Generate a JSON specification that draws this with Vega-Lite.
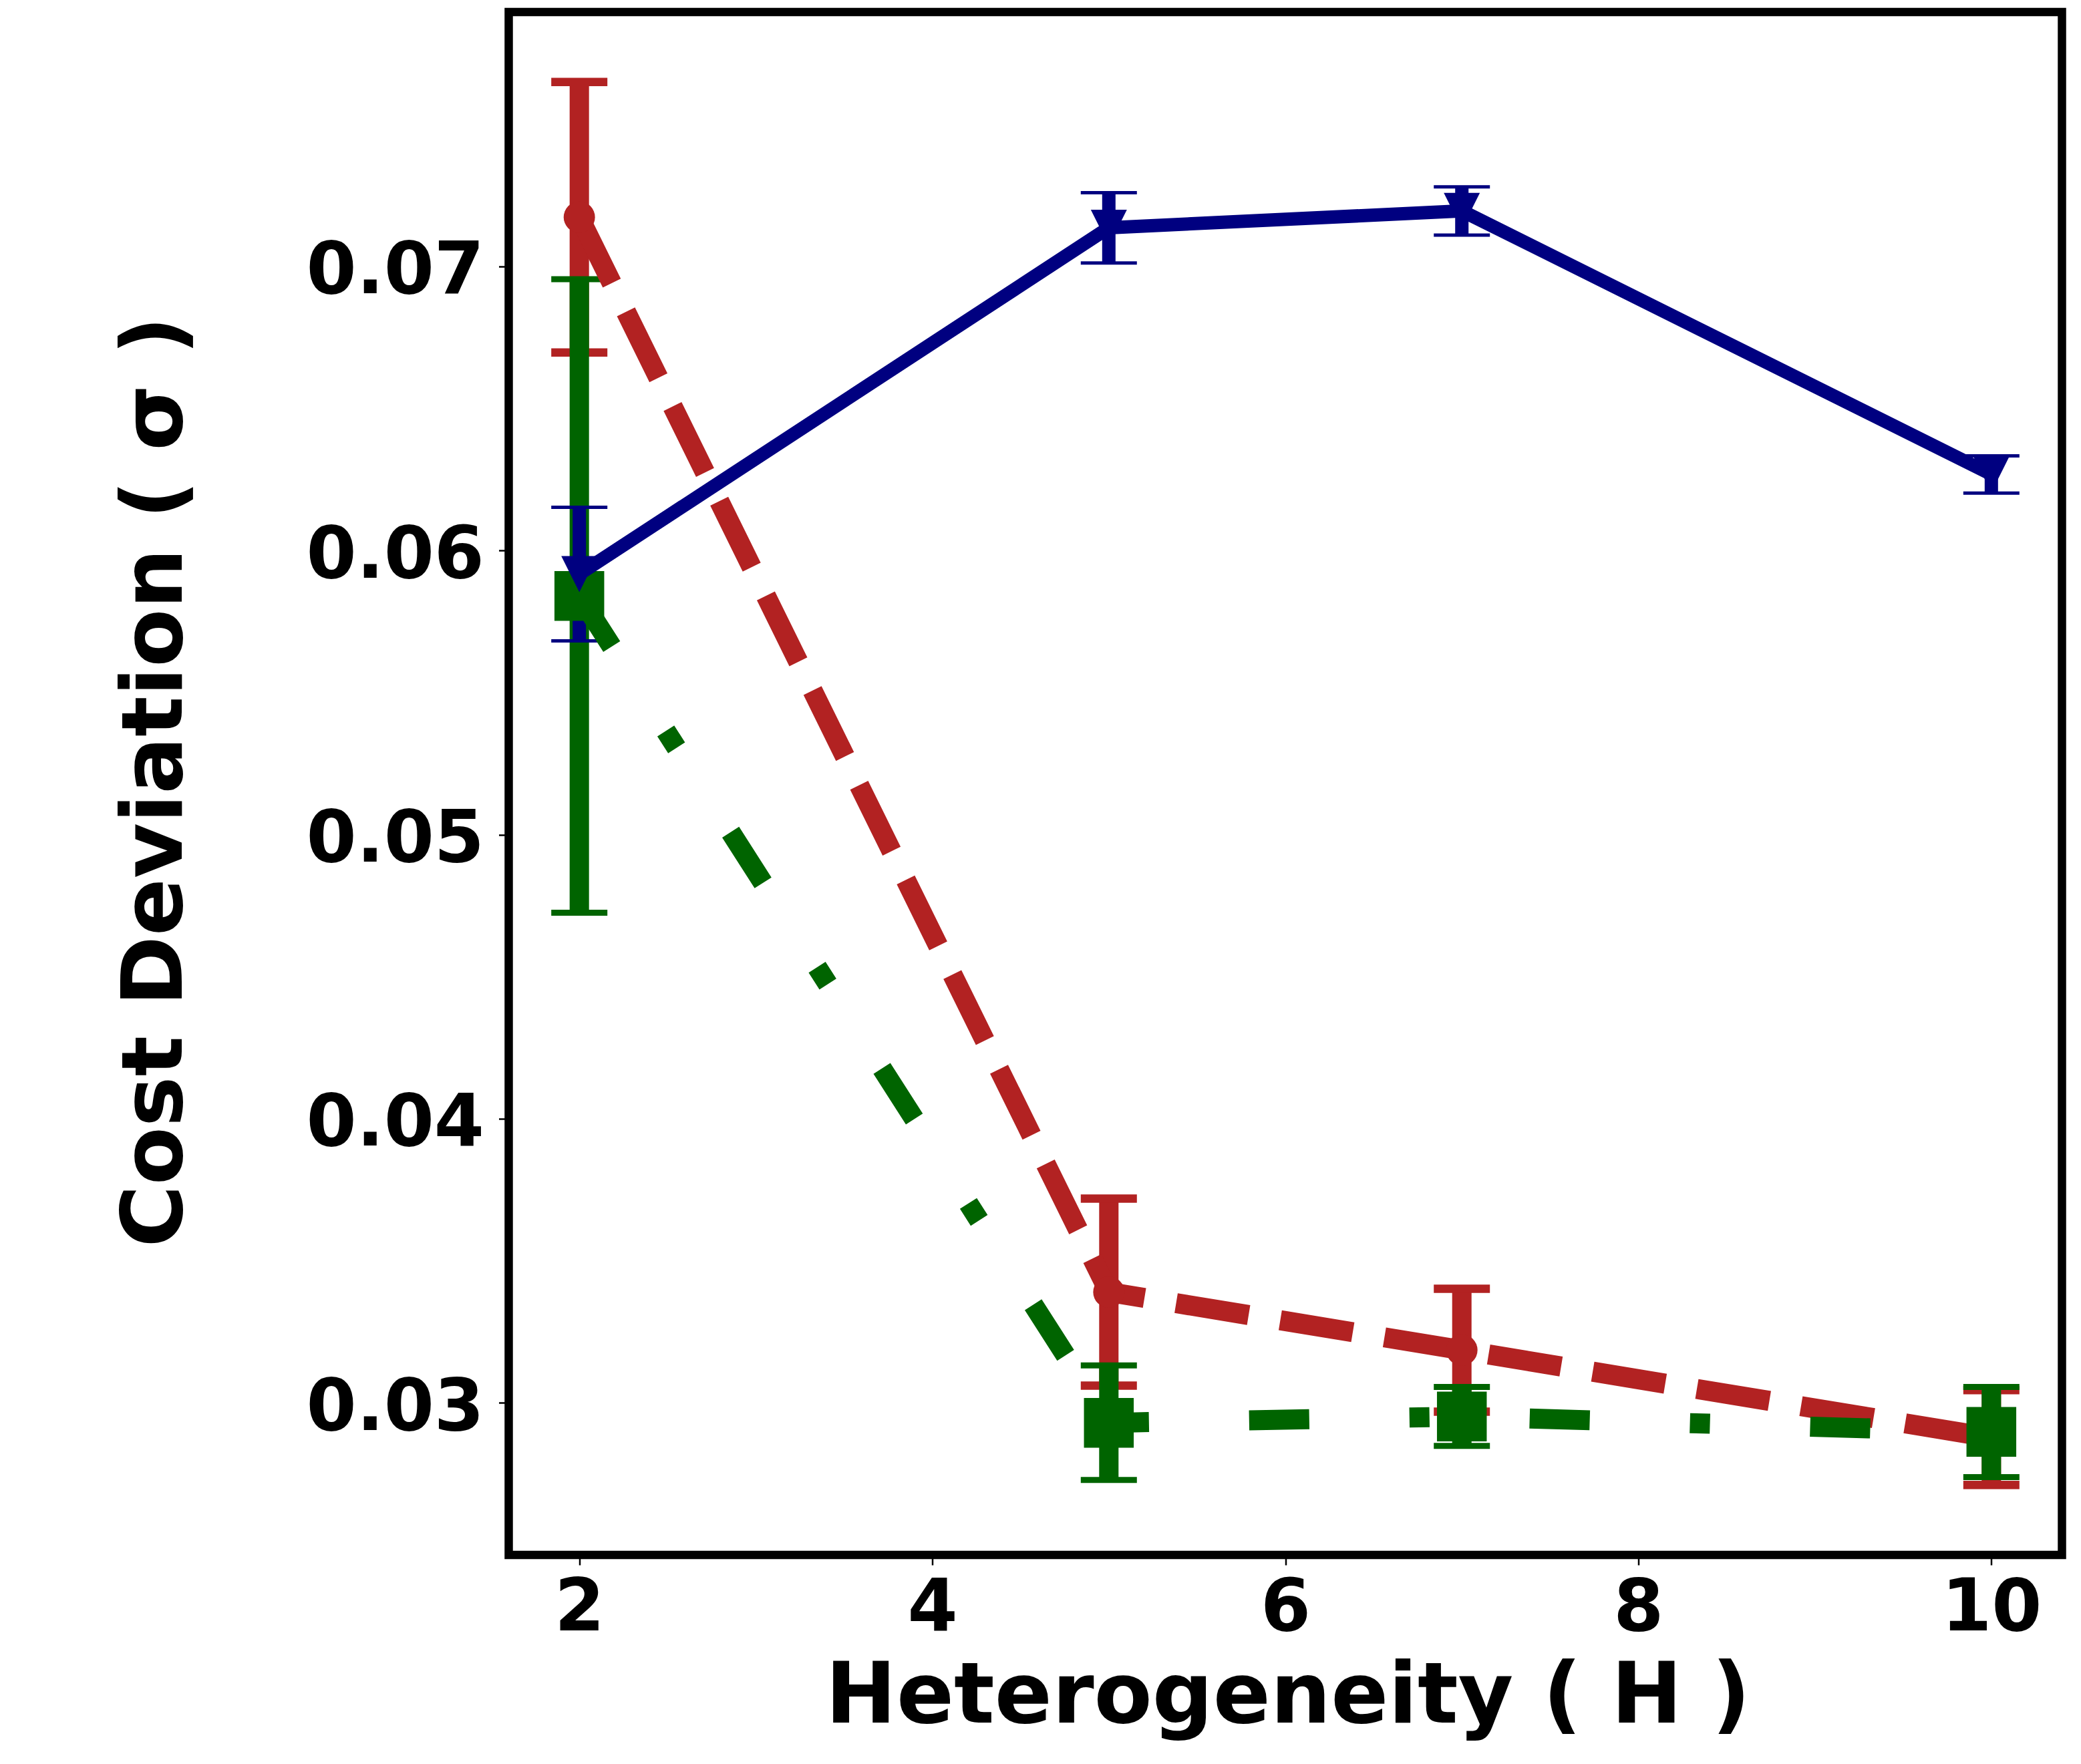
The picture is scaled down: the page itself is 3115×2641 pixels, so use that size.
{
  "$schema": "https://vega.github.io/schema/vega-lite/v6.json",
  "autosize": {"type": "none"},
  "padding": {"left": 761.5, "top": 18, "right": 28.5, "bottom": 313},
  "width": 2325,
  "height": 2310,
  "background": "white",
  "config": {
    "view": {"stroke": "black", "strokeWidth": 12.5},
    "axis": {
      "domain": false,
      "grid": false,
      "ticks": true,
      "tickColor": "black",
      "tickWidth": 2.5,
      "tickSize": 15,
      "labelColor": "black",
      "labelFont": "DejaVu Sans",
      "labelFontWeight": "bold",
      "labelFontSize": 108,
      "labelLimit": 0,
      "labelFlush": false,
      "labelOverlap": false,
      "titleColor": "black",
      "titleFont": "DejaVu Sans",
      "titleFontWeight": "bold",
      "titleFontSize": 127,
      "titleLimit": 0
    }
  },
  "data": {
    "values": [
      {"series": "A", "H": 2, "y": 0.07173, "lo": 0.06697, "hi": 0.07649},
      {"series": "A", "H": 5, "y": 0.0339, "lo": 0.03061, "hi": 0.03719},
      {"series": "A", "H": 7, "y": 0.03186, "lo": 0.02969, "hi": 0.03402},
      {"series": "A", "H": 10, "y": 0.02878, "lo": 0.02711, "hi": 0.03045},
      {"series": "B", "H": 2, "y": 0.0584, "lo": 0.04725, "hi": 0.06955},
      {"series": "B", "H": 5, "y": 0.0293, "lo": 0.02729, "hi": 0.03132},
      {"series": "B", "H": 7, "y": 0.02952, "lo": 0.02849, "hi": 0.03056},
      {"series": "B", "H": 10, "y": 0.02898, "lo": 0.02739, "hi": 0.03056},
      {"series": "C", "H": 2, "y": 0.05917, "lo": 0.05682, "hi": 0.06152},
      {"series": "C", "H": 5, "y": 0.07136, "lo": 0.07012, "hi": 0.07259},
      {"series": "C", "H": 7, "y": 0.07195, "lo": 0.0711, "hi": 0.0728},
      {"series": "C", "H": 10, "y": 0.06268, "lo": 0.06202, "hi": 0.06333}
    ]
  },
  "encoding": {
    "x": {
      "field": "H",
      "type": "quantitative",
      "scale": {"domain": [1.6, 10.4], "nice": false, "zero": false},
      "axis": {
        "values": [2, 4, 6, 8, 10],
        "labelPadding": 12,
        "title": "Heterogeneity ( H )",
        "titleX": 1166,
        "titleY": 250,
        "titleBaseline": "alphabetic"
      }
    },
    "y": {
      "field": "y",
      "type": "quantitative",
      "scale": {"domain": [0.02465, 0.07895], "nice": false, "zero": false},
      "axis": {
        "values": [0.03, 0.04, 0.05, 0.06, 0.07],
        "format": ".2f",
        "labelPadding": 22,
        "labelOffset": 8,
        "title": "Cost Deviation ( σ )",
        "titleAngle": -90,
        "titleX": -490,
        "titleY": 1152,
        "titleBaseline": "alphabetic",
        "titleAlign": "center"
      }
    }
  },
  "layer": [
    {
      "transform": [{"filter": "datum.series === 'A'"}],
      "layer": [
        {
          "mark": {"type": "rule", "color": "#b22222", "strokeWidth": 29},
          "encoding": {"y": {"field": "lo", "type": "quantitative"}, "y2": {"field": "hi"}}
        },
        {
          "transform": [{"fold": ["lo", "hi"], "as": ["cap", "capval"]}],
          "mark": {"type": "tick", "orient": "horizontal", "color": "#b22222", "size": 84, "thickness": 12.5, "opacity": 1},
          "encoding": {"y": {"field": "capval", "type": "quantitative"}}
        }
      ]
    },
    {
      "transform": [{"filter": "datum.series === 'B'"}],
      "layer": [
        {
          "mark": {"type": "rule", "color": "#006400", "strokeWidth": 29},
          "encoding": {"y": {"field": "lo", "type": "quantitative"}, "y2": {"field": "hi"}}
        },
        {
          "transform": [{"fold": ["lo", "hi"], "as": ["cap", "capval"]}],
          "mark": {"type": "tick", "orient": "horizontal", "color": "#006400", "size": 84, "thickness": 9, "opacity": 1},
          "encoding": {"y": {"field": "capval", "type": "quantitative"}}
        }
      ]
    },
    {
      "transform": [{"filter": "datum.series === 'C'"}],
      "layer": [
        {
          "mark": {"type": "rule", "color": "#000080", "strokeWidth": 20},
          "encoding": {"y": {"field": "lo", "type": "quantitative"}, "y2": {"field": "hi"}}
        },
        {
          "transform": [{"fold": ["lo", "hi"], "as": ["cap", "capval"]}],
          "mark": {"type": "tick", "orient": "horizontal", "color": "#000080", "size": 84, "thickness": 5, "opacity": 1},
          "encoding": {"y": {"field": "capval", "type": "quantitative"}}
        }
      ]
    },
    {
      "transform": [{"filter": "datum.series === 'A'"}],
      "layer": [
        {
          "mark": {"type": "line", "color": "#b22222", "strokeWidth": 30, "strokeDash": [110, 48], "strokeCap": "butt", "strokeJoin": "round"},
          "encoding": {}
        },
        {
          "mark": {"type": "point", "shape": "circle", "filled": true, "color": "#b22222", "size": 2200, "opacity": 1},
          "encoding": {}
        }
      ]
    },
    {
      "transform": [{"filter": "datum.series === 'B'"}],
      "layer": [
        {
          "mark": {"type": "line", "color": "#006400", "strokeWidth": 30, "strokeDash": [90, 150, 30, 150], "strokeCap": "butt", "strokeJoin": "round"},
          "encoding": {}
        },
        {
          "mark": {"type": "point", "shape": "square", "filled": true, "color": "#006400", "size": 5550, "opacity": 1},
          "encoding": {}
        }
      ]
    },
    {
      "transform": [{"filter": "datum.series === 'C'"}],
      "layer": [
        {
          "mark": {"type": "line", "color": "#000080", "strokeWidth": 20, "strokeCap": "square", "strokeJoin": "round"},
          "encoding": {}
        },
        {
          "mark": {"type": "point", "shape": "M0,1L1,-1L-1,-1Z", "filled": true, "color": "#000080", "size": 2916, "opacity": 1},
          "encoding": {}
        }
      ]
    }
  ]
}
